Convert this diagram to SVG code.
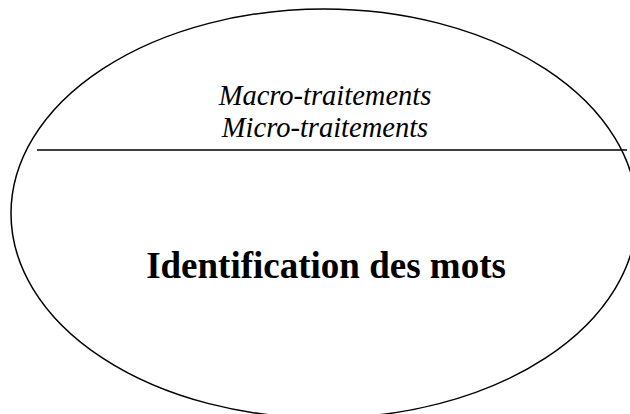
<svg xmlns="http://www.w3.org/2000/svg" width="630" height="414" viewBox="0 0 630 414">
<style>
.shape{fill:none;stroke:#000;stroke-width:1.5}
.it{font-family:"Liberation Serif","Times New Roman",serif;font-style:italic;font-size:28.5px;text-anchor:middle;fill:#000}
.bd{font-family:"Liberation Serif","Times New Roman",serif;font-weight:bold;font-size:37px;text-anchor:middle;fill:#000}
</style>
<rect width="630" height="414" fill="#fff"/>
<g id="ellipse-node">
<ellipse class="shape" cx="324" cy="213.5" rx="313" ry="204.5"/>
<text class="it" x="325" y="105">Macro-traitements</text>
<text class="it" x="325" y="137">Micro-traitements</text>
</g>
<g id="connectors">
<line class="shape" x1="37" y1="150" x2="627" y2="150"/>
</g>
<g id="main-label">
<text class="bd" x="326" y="278">Identification des mots</text>
</g>
</svg>
